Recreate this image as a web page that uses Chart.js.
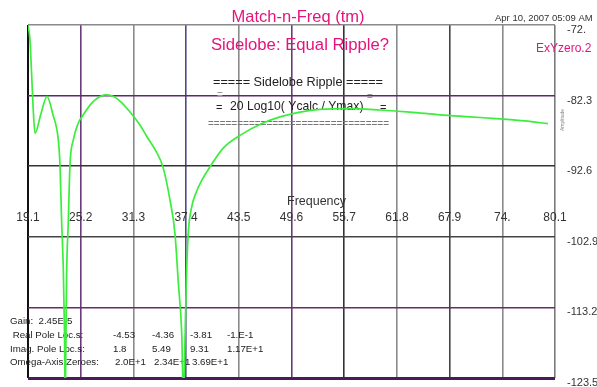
<!DOCTYPE html>
<html>
<head>
<meta charset="utf-8">
<script src="https://cdn.jsdelivr.net/npm/chart.js@4.4.1/dist/chart.umd.min.js"></script>
<style>
  html, body { margin: 0; padding: 0; background: #fff; }
  #wrap { width: 597px; height: 387px; position: relative; }
</style>
</head>
<body>
<div id="wrap"><canvas id="respChart"></canvas></div>
<script>
// response samples: frequency and amplitude in dB
const freqs = [
  19.1, 19.33, 19.5, 19.68, 19.91, 20.57, 21.3, 21.99, 22.61, 22.8,
  23.0, 23.19, 23.32, 23.41, 23.5, 23.58, 23.76, 23.96, 24.34, 24.89,
  25.5, 26.47, 27.2, 28.01, 28.94, 29.75, 30.91, 32.06, 32.87, 33.91,
  34.72, 35.53, 36.11, 36.5, 36.89, 37.11, 37.29, 37.42, 37.65, 38.02,
  38.54, 39.24, 40.16, 41.67, 43.64, 46.3, 48.27, 50.58, 52.9, 56.37,
  59.84, 63.31, 66.79, 70.26, 73.73, 76.62, 79.28
];
const ampDb = [
  -72.0, -74.2, -78.6, -83.7, -87.8, -85.1, -82.4, -85.1, -88.8, -92.4,
  -100.9, -107.8, -116.5, -126.7, -116.5, -107.8, -100.9, -92.4, -88.8, -86.4,
  -85.1, -83.4, -82.6, -82.2, -82.4, -83.1, -84.7, -86.6, -88.3, -90.4,
  -92.7, -97.5, -102.4, -109.6, -116.9, -127.0, -116.9, -109.6, -102.4, -98.7,
  -96.5, -94.6, -92.7, -90.0, -88.1, -86.3, -85.4, -84.7, -84.3, -84.2,
  -84.4, -84.7, -85.1, -85.4, -85.7, -86.0, -86.4
];

const freqTicks = [19.1, 25.2, 31.3, 37.4, 43.5, 49.6, 55.7, 61.8, 67.9, 74.0, 80.1];
const freqLabels = ['19.1', '25.2', '31.3', '37.4', '43.5', '49.6', '55.7', '61.8', '67.9', '74.', '80.1'];
const ampTicks = [-123.5, -113.2, -102.9, -92.6, -82.3, -72];
const ampLabels = ['-123.5', '-113.2', '-102.9', '-92.6', '-82.3', '-72.'];

const gainValue = '2.45E-5';
const realPoles = ['-4.53', '-4.36', '-3.81', '-1.E-1'];
const imagPoles = ['1.8', '5.49', '9.31', '1.17E+1'];
const axisZeroes = ['2.0E+1', '2.34E+1', '3.69E+1'];

// grid line look, per tick
const xGridColors = ['#111111', '#6a3a7a', '#8a8a8a', '#4a4a88', '#8a8a8a', '#6a3a7a', '#333333', '#8a8a8a', '#444444', '#8a8a8a', '#7a7a7a'];
const xGridWidths = [2, 1.6, 1.6, 1.6, 1.6, 1.6, 1.6, 1.6, 1.6, 1.6, 1.6];
const yGridColors = ['#4a1a5a', '#6a2a6a', '#444444', '#333333', '#5c2a6a', '#8a8a8a'];
const yGridWidths = [3, 1.6, 1.6, 1.6, 1.6, 1.6];

const FONT = '"Liberation Sans", Arial, sans-serif';
const PINK = '#e6137d';

function txt(ctx, s, x, y, size, color, align) {
  ctx.font = size + 'px ' + FONT;
  ctx.fillStyle = color;
  ctx.textAlign = align || 'left';
  ctx.textBaseline = 'middle';
  ctx.fillText(s, x, y);
}

const textLayer = {
  id: 'textLayer',
  beforeDatasetsDraw(chart) {
    const ctx = chart.ctx;
    const xs = chart.scales.x;
    const ys = chart.scales.y;
    ctx.save();

    // headings
    txt(ctx, 'Match-n-Freq (tm)', 298, 17, 16.5, PINK, 'center');
    txt(ctx, 'Sidelobe: Equal Ripple?', 300, 45, 16.7, PINK, 'center');
    txt(ctx, 'Apr 10, 2007 05:09 AM', 495, 18, 9.5, '#333');
    txt(ctx, 'ExYzero.2', 536, 49, 12, PINK);

    // formula box
    txt(ctx, '===== Sidelobe Ripple =====', 213, 82, 12.7, '#222');
    txt(ctx, '=', 217, 95, 10, '#999');
    txt(ctx, '=', 367, 97, 10, '#999');
    txt(ctx, '=', 216, 108, 11, '#222');
    txt(ctx, '20 Log10( Ycalc / Ymax)', 230, 107, 12.2, '#222');
    txt(ctx, '=', 380, 108, 11, '#222');
    txt(ctx, '='.repeat(31), 208, 124, 10, '#777');

    // frequency tick labels, inside the plot
    freqTicks.forEach((v, i) => {
      txt(ctx, freqLabels[i], xs.getPixelForValue(v), 218, 12, '#333', 'center');
    });
    txt(ctx, 'Frequency', 287, 202, 12.5, '#333');

    // amplitude tick labels on the right
    ampTicks.forEach((v, i) => {
      txt(ctx, ampLabels[i], 567, ys.getPixelForValue(v) + 5, 11, '#333');
    });
    ctx.save();
    ctx.translate(563, 120);
    ctx.rotate(-Math.PI / 2);
    txt(ctx, 'Amplitude', 0, 0, 5, '#888', 'center');
    ctx.restore();

    // filter summary
    const sz = 9.7, col = '#222';
    const cols = [113, 152, 190, 227];
    txt(ctx, 'Gain:  ' + gainValue, 10, 321, sz, col);
    txt(ctx, ' Real Pole Loc.s:', 10, 335, sz, col);
    realPoles.forEach((s, i) => txt(ctx, s, cols[i], 335, sz, col));
    txt(ctx, 'Imag. Pole Loc.s:', 10, 349, sz, col);
    imagPoles.forEach((s, i) => txt(ctx, s, cols[i], 349, sz, col));
    txt(ctx, 'Omega-Axis Zeroes:', 10, 362, sz, col);
    axisZeroes.forEach((s, i) => txt(ctx, s, cols[i] + 2, 362, sz, col));

    ctx.restore();
  }
};

const points = freqs.map((f, i) => ({ x: f, y: ampDb[i] }));

new Chart(document.getElementById('respChart'), {
  type: 'line',
  data: {
    datasets: [{
      data: points,
      borderColor: '#3bee3b',
      borderWidth: 1.7,
      pointRadius: 0,
      cubicInterpolationMode: 'monotone',
      fill: false
    }]
  },
  options: {
    responsive: true,
    maintainAspectRatio: false,
    animation: false,
    devicePixelRatio: 1,
    layout: { padding: { left: 28, top: 25, right: 42, bottom: 9 } },
    plugins: { legend: { display: false }, tooltip: { enabled: false } },
    scales: {
      x: {
        type: 'linear',
        min: 19.1,
        max: 80.1,
        afterBuildTicks: sc => { sc.ticks = freqTicks.map(v => ({ value: v })); },
        ticks: { display: false },
        border: { display: false },
        grid: {
          drawTicks: false,
          color: c => xGridColors[c.index],
          lineWidth: c => xGridWidths[c.index]
        }
      },
      y: {
        min: -123.5,
        max: -72,
        afterBuildTicks: sc => { sc.ticks = ampTicks.map(v => ({ value: v })); },
        ticks: { display: false },
        border: { display: false },
        grid: {
          drawTicks: false,
          color: c => yGridColors[c.index],
          lineWidth: c => yGridWidths[c.index]
        }
      }
    }
  },
  plugins: [textLayer]
});
</script>
</body>
</html>
